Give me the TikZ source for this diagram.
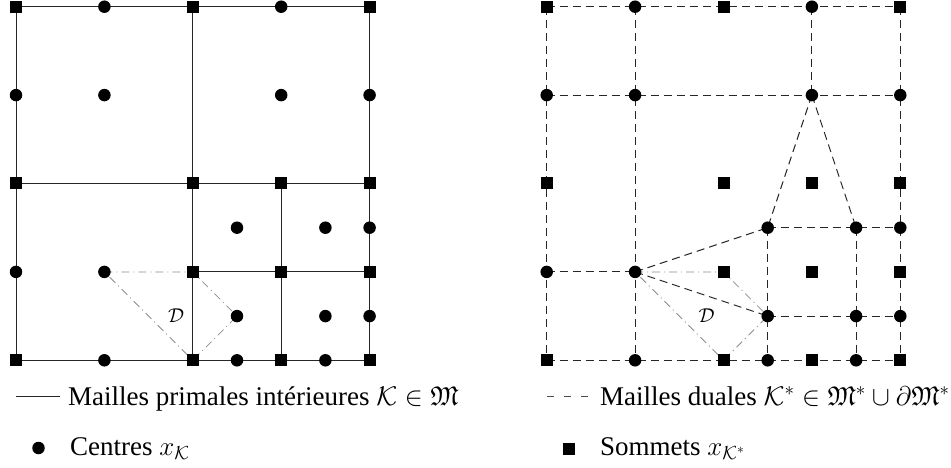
\RequirePackage{fix-cm}
\documentclass[tikz,border=0pt]{standalone}
\usepackage{amsmath,amssymb}
\usepackage{fontspec}
\setmainfont{Liberation Serif}
\begin{document}
\begin{tikzpicture}
\tikzset{
 dot/.style={circle,fill=black,inner sep=0pt,minimum size=12.5pt},
 sq/.style={rectangle,fill=black,inner sep=0pt,minimum size=12pt},
 primal/.style={line width=1pt,black!85},
 dual/.style={line width=1pt,black!85,dash pattern=on 8pt off 5pt},
 dd/.style={line width=0.8pt,black!45,dash pattern=on 8pt off 4pt on 1pt off 4pt},
 leg/.style={anchor=base west,inner sep=0pt,font=\fontsize{27}{32}\selectfont},
 dlab/.style={inner sep=0pt,font=\fontsize{20}{24}\selectfont}
}
\useasboundingbox (0,0) rectangle (951pt,-468pt);
\foreach \pre/\ox in {L/16,R/546.7}{
  \foreach \i in {0,...,8}{
    \foreach \j in {0,...,8}{
      \coordinate (\pre\i\j) at (\ox pt+\i*44.2pt, -6.7pt-\j*44.2pt);
    }
  }
}
% primal mesh (left)
\draw[primal] (L00) rectangle (L88);
\draw[primal] (L40) -- (L48);
\draw[primal] (L04) -- (L84);
\draw[primal] (L64) -- (L68);
\draw[primal] (L46) -- (L86);
\draw[dd] (L26) -- (L46) -- (L57) -- (L48) -- cycle;
% dual mesh (right)
\draw[dual] (R00) -- (R80);
\draw[dual] (R00) -- (R08);
\draw[dual] (R80) -- (R88);
\draw[dual] (R08) -- (R88);
\draw[dual] (R20) -- (R28);
\draw[dual] (R60) -- (R62);
\draw[dual] (R02) -- (R82);
\draw[dual] (R06) -- (R26);
\draw[dual] (R62) -- (R55);
\draw[dual] (R62) -- (R75);
\draw[dual] (R26) -- (R55);
\draw[dual] (R26) -- (R57);
\draw[dual] (R55) -- (R85);
\draw[dual] (R57) -- (R87);
\draw[dual] (R55) -- (R58);
\draw[dual] (R75) -- (R78);
\draw[dd] (R26) -- (R46) -- (R57) -- (R48) -- cycle;
% markers
\foreach \p in {L,R}{
  \foreach \c in {00,40,80,04,44,64,84,46,66,86,08,48,68,88}{
    \node[sq] (s\p\c) at (\p\c) {};
  }
  \foreach \c in {22,62,26,55,75,57,77,20,60,02,82,06,85,87,28,58,78}{
    \node[dot] (d\p\c) at (\p\c) {};
  }
}
\node[dlab] (DL) at (176pt,-316pt) {$\mathcal{D}$};
\node[dlab] (DR) at (706.7pt,-316pt) {$\mathcal{D}$};
% legend
\coordinate (la) at (16pt,-396pt);
\coordinate (lb) at (60pt,-396pt);
\draw[primal] (la) -- (lb);
\node[leg] (t1) at (68pt,-405pt) {Mailles primales intérieures $\mathcal{K}\in\mathfrak{M}$};
\node[dot] (b1) at (38.5pt,-448pt) {};
\node[leg] (t2) at (70pt,-455pt) {Centres $x_{\mathcal{K}}$};
\coordinate (ra) at (547pt,-396pt);
\coordinate (rb) at (588pt,-396pt);
\draw[line width=0.8pt,black!70,dash pattern=on 7pt off 10pt] (ra) -- (rb);
\node[leg] (t3) at (600pt,-405pt) {Mailles duales $\mathcal{K}^*\in\mathfrak{M}^*\cup\partial\mathfrak{M}^*$};
\node[sq] (b2) at (569pt,-449pt) {};
\node[leg] (t4) at (600pt,-455pt) {Sommets $x_{\mathcal{K}^*}$};
\end{tikzpicture}
\end{document}
